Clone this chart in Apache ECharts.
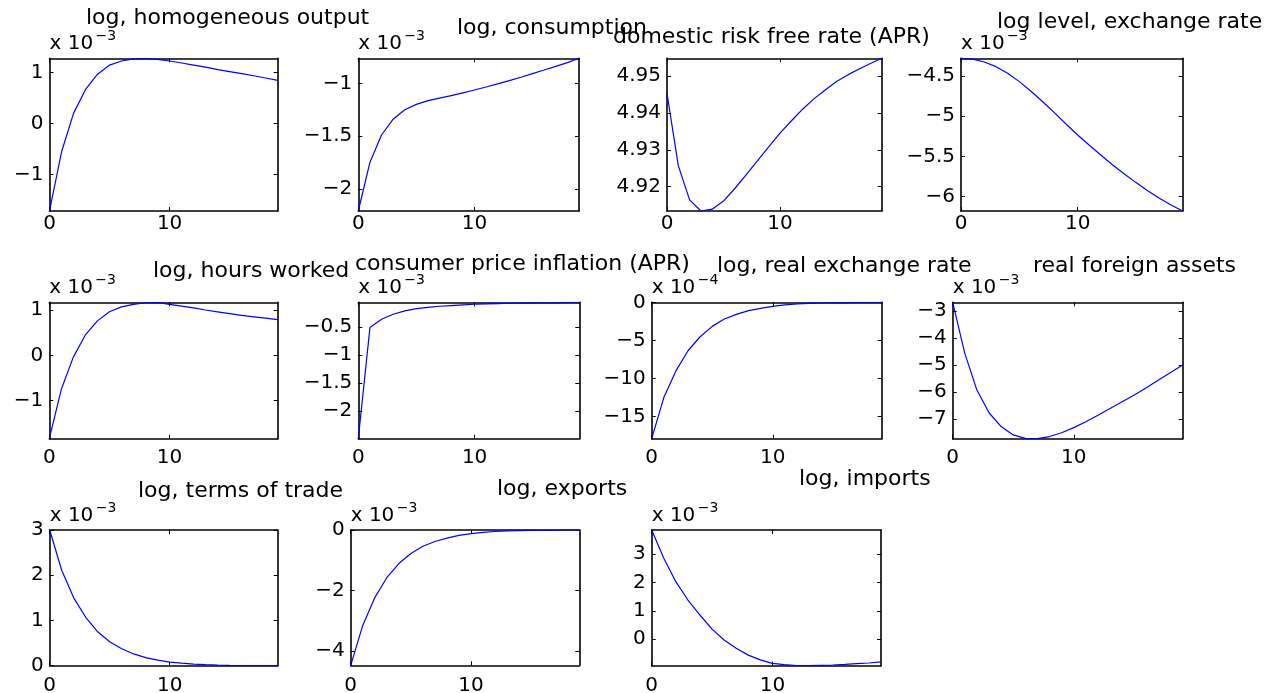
<!DOCTYPE html>
<html><head><meta charset="utf-8">
<script src="https://cdn.jsdelivr.net/npm/echarts@6/dist/echarts.min.js"></script>
<style>html,body{margin:0;padding:0;background:#fff}#c{width:1268px;height:693px}</style>
</head><body><div id="c"></div>
<script>
// horizon (quarters)
const steps = [0,1,2,3,4,5,6,7,8,9,10,11,12,13,14,15,16,17,18,19];
const xTicks = [0, 10];

// impulse responses (values in the units shown on each axis)
const homogeneousOutput = [-1.72,-0.56,0.20,0.67,0.97,1.15,1.23,1.27,1.283,1.26,1.23,1.19,1.15,1.11,1.06,1.02,0.98,0.94,0.895,0.85];
const consumption = [-2.21,-1.75,-1.49,-1.34,-1.25,-1.20,-1.164,-1.14,-1.117,-1.09,-1.063,-1.035,-1.006,-0.975,-0.943,-0.908,-0.874,-0.839,-0.804,-0.763];
const riskFreeRate = [4.9453,4.9257,4.9164,4.9134,4.9139,4.9161,4.9195,4.9232,4.927,4.9308,4.9345,4.9378,4.941,4.9438,4.9462,4.9485,4.9503,4.9519,4.9534,4.9548];
const exchangeRate = [-4.28,-4.29,-4.326,-4.384,-4.467,-4.57,-4.69,-4.82,-4.956,-5.097,-5.234,-5.362,-5.486,-5.606,-5.718,-5.826,-5.926,-6.021,-6.104,-6.179];
const hoursWorked = [-1.84,-0.75,-0.04,0.45,0.76,0.96,1.07,1.125,1.16,1.17,1.125,1.085,1.045,1.00,0.96,0.92,0.88,0.85,0.82,0.787];
const cpiInflation = [-2.49,-0.506,-0.357,-0.268,-0.208,-0.167,-0.143,-0.125,-0.113,-0.101,-0.089,-0.083,-0.077,-0.071,-0.068,-0.065,-0.062,-0.06,-0.057,-0.054];
const realExchangeRate = [-17.9,-12.5,-9.0,-6.36,-4.52,-3.16,-2.19,-1.58,-1.1,-0.79,-0.53,-0.35,-0.22,-0.15,-0.09,-0.05,-0.03,-0.015,-0.005,0];
const foreignAssets = [-2.68,-4.57,-5.93,-6.77,-7.28,-7.59,-7.72,-7.73,-7.65,-7.51,-7.32,-7.10,-6.86,-6.61,-6.36,-6.11,-5.84,-5.56,-5.28,-5.0];
const termsOfTrade = [3.0,2.11,1.50,1.07,0.75,0.53,0.376,0.26,0.18,0.125,0.08,0.055,0.035,0.022,0.013,0.007,0.003,0.001,0,0];
const exportsLog = [-4.48,-3.16,-2.24,-1.58,-1.11,-0.78,-0.54,-0.38,-0.27,-0.18,-0.12,-0.08,-0.05,-0.03,-0.02,-0.01,-0.005,-0.002,0,0];
const importsLog = [3.86,2.86,2.03,1.38,0.85,0.35,-0.035,-0.33,-0.57,-0.74,-0.86,-0.91,-0.945,-0.945,-0.93,-0.92,-0.90,-0.87,-0.85,-0.81];

// titles
const titles = ["log, homogeneous output","log, consumption","domestic risk free rate (APR)","log level, exchange rate",
  "log, hours worked","consumer price inflation (APR)","log, real exchange rate","real foreign assets",
  "log, terms of trade","log, exports","log, imports"];
// y tick labels
const yTicks = [[-1,0,1],[-2,-1.5,-1],[4.92,4.93,4.94,4.95],[-6,-5.5,-5,-4.5],
  [-1,0,1],[-2,-1.5,-1,-0.5],[-15,-10,-5,0],[-7,-6,-5,-4,-3],
  [0,1,2,3],[-4,-2,0],[0,1,2,3]];
// exponent of the axis multiplier (null = none)
const exponents = ["−3","−3",null,"−3","−3","−3","−4","−3","−3","−3","−3"];
const seriesData = [homogeneousOutput,consumption,riskFreeRate,exchangeRate,hoursWorked,cpiInflation,realExchangeRate,foreignAssets,termsOfTrade,exportsLog,importsLog];

// layout: grid [left, top, width, height], title [left, top], x label margin
const layout = [
  {g:[49.5,58.3,228.2,152.7], t:[86,7], m:3},
  {g:[358.3,58.3,220.7,152.7], t:[457,17], m:3},
  {g:[667,58.3,214.7,152.7], t:[613,26], m:3},
  {g:[961,58.3,221.7,152.7], t:[997,11], m:3},
  {g:[49.3,302.3,228.4,136.4], t:[153,260], m:9},
  {g:[358.3,302.3,221,136.4], t:[355,253], m:9},
  {g:[651.7,302.3,230,136.4], t:[717,255], m:9},
  {g:[952.7,302.3,230,136.4], t:[1033,255], m:9},
  {g:[49.7,530,228,135.7], t:[138,480], m:10},
  {g:[350.7,530,228.6,135.3], t:[497,478], m:10},
  {g:[651.7,530,229.3,135.7], t:[799,468], m:10}
];

const FONT = 'DejaVu Sans';
const fmt = v => (Math.round(v*10000)/10000).toString().replace('-', '\u2212');
const lineStyle = {color:'#000', width:1.6};

const grid=[], xAxis=[], yAxis=[], series=[], title=[], graphic=[];
seriesData.forEach((vals, i) => {
  const L = layout[i];
  const ymin = Math.min(...vals), ymax = Math.max(...vals);
  grid.push({left:L.g[0], top:L.g[1], width:L.g[2], height:L.g[3], containLabel:false, outerBoundsMode:'none'});
  xAxis.push({type:'value', gridIndex:i, min:0, max:19, position:'bottom',
    axisLine:{show:true, onZero:false, lineStyle},
    axisTick:{show:true, inside:true, length:4, customValues:xTicks, lineStyle:{color:'#000', width:1}},
    axisLabel:{show:true, customValues:xTicks, color:'#000', fontFamily:FONT, fontSize:20, margin:L.m, formatter:fmt},
    splitLine:{show:false}});
  xAxis.push({type:'value', gridIndex:i, min:0, max:19, position:'top',
    axisLine:{show:true, onZero:false, lineStyle},
    axisTick:{show:true, inside:true, length:4, customValues:xTicks, lineStyle:{color:'#000', width:1}},
    axisLabel:{show:false}, splitLine:{show:false}});
  yAxis.push({type:'value', gridIndex:i, min:ymin, max:ymax, position:'left',
    axisLine:{show:true, onZero:false, lineStyle},
    axisTick:{show:true, inside:true, length:4, customValues:yTicks[i], lineStyle:{color:'#000', width:1}},
    axisLabel:{show:true, customValues:yTicks[i], color:'#000', fontFamily:FONT, fontSize:20, margin:6, formatter:fmt},
    splitLine:{show:false}});
  yAxis.push({type:'value', gridIndex:i, min:ymin, max:ymax, position:'right',
    axisLine:{show:true, onZero:false, lineStyle},
    axisTick:{show:true, inside:true, length:4, customValues:yTicks[i], lineStyle:{color:'#000', width:1}},
    axisLabel:{show:false}, splitLine:{show:false}});
  series.push({type:'line', xAxisIndex:2*i, yAxisIndex:2*i, data:steps.map((s,j)=>[s, vals[j]]),
    showSymbol:false, symbol:'none', lineStyle:{color:'#0000ff', width:1.2}, itemStyle:{color:'#0000ff'},
    animation:false, silent:true});
  title.push({text:titles[i], left:L.t[0], top:L.t[1], padding:0, itemGap:0,
    textStyle:{fontFamily:FONT, fontSize:22, fontWeight:'normal', color:'#000'}});
  if (exponents[i]) {
    const gl = L.g[0], gt = L.g[1];
    graphic.push({type:'text', x:gl, y:gt-14.5, silent:true,
      style:{text:'x 10', fontFamily:FONT, fontSize:20, fill:'#000', align:'left', verticalAlign:'middle'}});
    graphic.push({type:'text', x:gl+46, y:gt-22, silent:true,
      style:{text:exponents[i], fontFamily:FONT, fontSize:14, fill:'#000', align:'left', verticalAlign:'middle'}});
  }
});

const chart = echarts.init(document.getElementById('c'), null, {renderer:'canvas'});
chart.setOption({backgroundColor:'#fff', animation:false, title, grid, xAxis, yAxis, series, graphic});
</script></body></html>
